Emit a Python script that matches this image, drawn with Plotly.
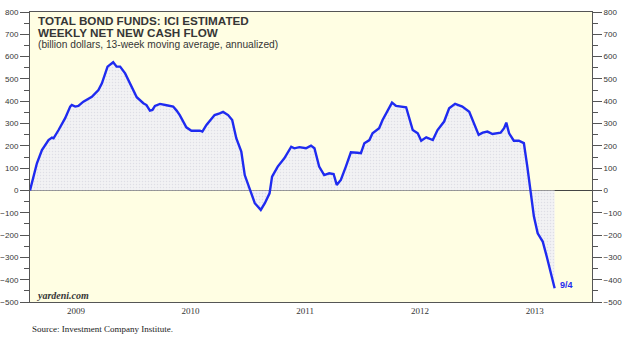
import plotly.graph_objects as go

dates = [
    "2009-02-06", "2009-02-28", "2009-03-16", "2009-04-06", "2009-04-17", "2009-04-22",
    "2009-05-08", "2009-05-29", "2009-06-14", "2009-06-19", "2009-06-30", "2009-07-10",
    "2009-07-26", "2009-08-22", "2009-09-12", "2009-09-23", "2009-10-11", "2009-10-29",
    "2009-11-09", "2009-11-20", "2009-12-06", "2009-12-22",
    "2010-01-12", "2010-02-02", "2010-02-12", "2010-02-23", "2010-03-03", "2010-03-11",
    "2010-03-27", "2010-04-17", "2010-05-08", "2010-05-19", "2010-05-29", "2010-06-19",
    "2010-07-05", "2010-08-01", "2010-08-09", "2010-08-22", "2010-09-07", "2010-09-17",
    "2010-10-03", "2010-10-14", "2010-10-30", "2010-11-12", "2010-11-25", "2010-12-11",
    "2010-12-22",
    "2011-01-07", "2011-01-23", "2011-02-11", "2011-02-24", "2011-03-11", "2011-03-19",
    "2011-04-06", "2011-04-27", "2011-05-19", "2011-05-29", "2011-06-14", "2011-07-05",
    "2011-07-21", "2011-08-01", "2011-08-16", "2011-09-01", "2011-09-17", "2011-10-01",
    "2011-10-11", "2011-10-24", "2011-11-09", "2011-11-25", "2011-12-16", "2011-12-27",
    "2012-01-07", "2012-01-23", "2012-02-02", "2012-02-23", "2012-03-05", "2012-03-21",
    "2012-04-04", "2012-04-17", "2012-05-08", "2012-05-19", "2012-06-09", "2012-06-25",
    "2012-07-06", "2012-07-22", "2012-08-12", "2012-08-27", "2012-09-17", "2012-10-03",
    "2012-10-22", "2012-11-14", "2012-12-06", "2012-12-22",
    "2013-01-05", "2013-01-18", "2013-02-02", "2013-02-18", "2013-03-16", "2013-03-27",
    "2013-04-03", "2013-04-12", "2013-04-27", "2013-05-13", "2013-05-29", "2013-06-09",
    "2013-06-19", "2013-06-30", "2013-07-12", "2013-07-28", "2013-08-10", "2013-08-21",
    "2013-09-04",
]
flows = [
    0, 122, 181, 226, 237, 234,
    271, 324, 376, 383, 376, 379,
    398, 420, 450, 480, 555, 575,
    555, 555, 525, 480,
    418, 391, 383, 358, 361, 379,
    388, 382, 376, 358, 338, 283,
    268, 268, 264, 294, 324, 338,
    346, 352, 338, 316, 234, 174,
    69,
    10, -57, -87, -57, -13, 62,
    107, 144, 196, 189, 194, 189,
    201, 189, 107, 69, 77, 74,
    25, 47, 107, 171, 169, 167,
    212, 226, 256, 279, 316, 361,
    394, 379, 376, 373, 271, 256,
    223, 238, 226, 271, 309, 368,
    388, 376, 353, 294,
    249, 259, 264, 253, 259, 279,
    304, 256, 223, 223, 212, 107,
    0, -117, -192, -229, -297, -356,
    -438,
]
y_ticks = list(range(-500, 801, 100))
title_lines = ["TOTAL BOND FUNDS: ICI ESTIMATED", "WEEKLY NET NEW CASH FLOW"]
subtitle = "(billion dollars, 13-week moving average, annualized)"
last_label = "9/4"
source = "Source: Investment Company Institute."
credit = "yardeni.com"

x_range = ["2009-02-06", "2014-01-01"]
y_range = [-500, 800]

AX = "#555555"
TXT = "#363636"
BLUE = "#1f2bf0"

fig = go.Figure()
fig.add_trace(go.Scatter(
    x=dates, y=flows, mode="lines",
    line=dict(color=BLUE, width=2.4),
    fill="tozeroy",
    fillcolor="rgba(236,236,240,1)",
    fillpattern=dict(shape=".", fgcolor="#cacad6", bgcolor="#f2f2f4", size=3, solidity=0.2),
    hoverinfo="skip", showlegend=False,
))
# invisible trace to activate the right-hand axis
fig.add_trace(go.Scatter(x=x_range, y=y_range, yaxis="y2", mode="lines",
                         line=dict(width=0), opacity=0, hoverinfo="skip", showlegend=False))

axis_common = dict(
    range=y_range, tickvals=y_ticks, ticks="outside", ticklen=9, tickcolor=AX,
    showline=True, linecolor=AX, linewidth=1, showgrid=False, automargin=False,
    tickfont=dict(family="Liberation Sans, Arial", size=8, color=TXT),
    minor=dict(dtick=50, ticks="outside", ticklen=5, tickcolor=AX, showgrid=False),
)

fig.update_layout(
    width=624, height=342,
    margin=dict(l=30, r=32, t=12, b=40),
    paper_bgcolor="white",
    plot_bgcolor="#fffee3",
    xaxis=dict(
        type="date", range=x_range, dtick="M12", tick0="2009-01-01",
        ticklabelmode="period", tickformat="%Y",
        ticks="", ticklen=0, automargin=False,
        minor=dict(dtick="M12", tick0="2009-01-01", ticks="outside", ticklen=9,
                   tickcolor=AX, showgrid=False),
        showline=True, linecolor=AX, linewidth=1, mirror=True, showgrid=False,
        tickfont=dict(family="Liberation Serif, Times New Roman", size=9, color=TXT),
        zeroline=False,
    ),
    yaxis=dict(**axis_common, side="left", zeroline=True, zerolinecolor="#444444", zerolinewidth=1),
    yaxis2=dict(**axis_common, side="right", overlaying="y", zeroline=False),
)

anns = [
    dict(text=title_lines[0], x=0.0107, y=0.970, size=11.7, bold=True),
    dict(text=title_lines[1], x=0.0107, y=0.930, size=11.7, bold=True),
    dict(text=subtitle, x=0.0107, y=0.887, size=10.2, bold=False),
]
for a in anns:
    fig.add_annotation(
        text=("<b>%s</b>" % a["text"]) if a["bold"] else a["text"],
        xref="paper", yref="paper", x=a["x"], y=a["y"],
        xanchor="left", yanchor="middle", showarrow=False,
        font=dict(family="Liberation Sans, Arial", size=a["size"], color=TXT),
    )

fig.add_annotation(
    text="<b><i>%s</i></b>" % credit, xref="paper", yref="paper",
    x=0.009, y=0.022, xanchor="left", yanchor="middle", showarrow=False,
    font=dict(family="Liberation Serif, Times New Roman", size=10, color=TXT),
)
fig.add_annotation(
    text="<b>%s</b>" % last_label, x=dates[-1], y=flows[-1],
    xanchor="left", yanchor="middle", xshift=3, yshift=3, showarrow=False,
    font=dict(family="Liberation Sans, Arial", size=9, color=BLUE),
)
fig.add_annotation(
    text=source, xref="paper", yref="paper", x=0.0, y=-0.093,
    xanchor="left", yanchor="middle", showarrow=False,
    font=dict(family="Liberation Serif, Times New Roman", size=9, color="#222222"),
)

fig.write_html("out.html")
